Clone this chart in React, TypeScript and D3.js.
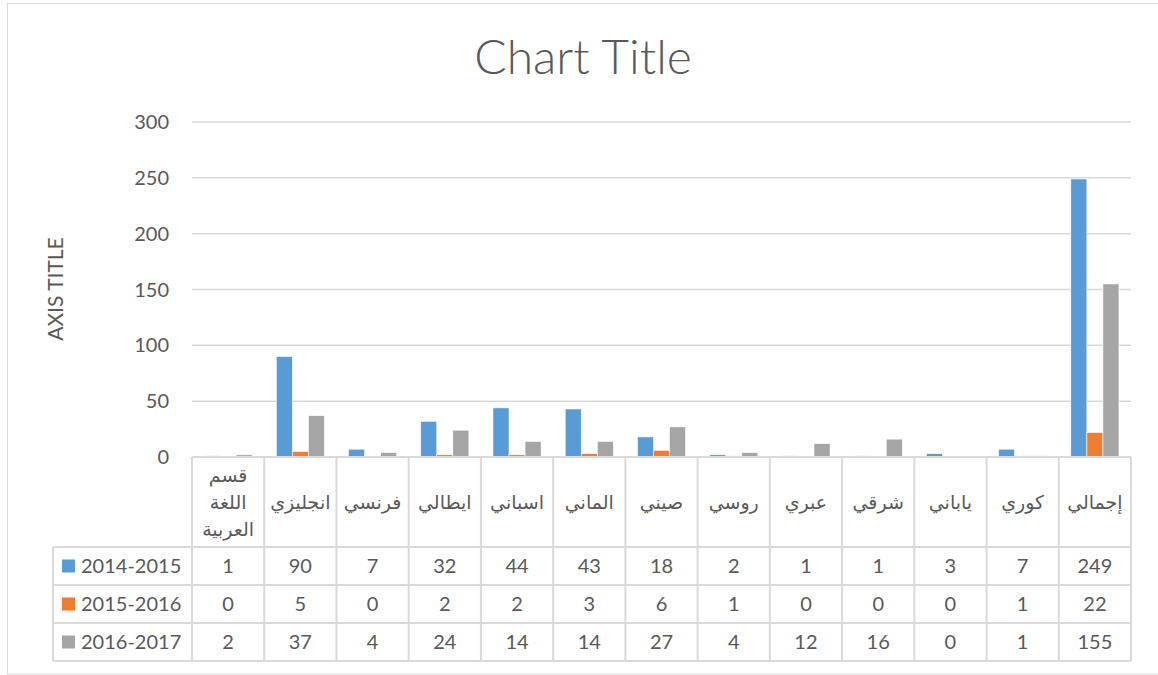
import React from "react";
import * as d3 from "d3";

const categories = [
  "قسم اللغة العربية",
  "انجليزي",
  "فرنسي",
  "ايطالي",
  "اسباني",
  "الماني",
  "صيني",
  "روسي",
  "عبري",
  "شرقي",
  "ياباني",
  "كوري",
  "إجمالي",
];
const categoryLines: string[][] = [
  ["قسم", "اللغة", "العربية"],
  ["انجليزي"],
  ["فرنسي"],
  ["ايطالي"],
  ["اسباني"],
  ["الماني"],
  ["صيني"],
  ["روسي"],
  ["عبري"],
  ["شرقي"],
  ["ياباني"],
  ["كوري"],
  ["إجمالي"],
];
const seriesNames = ["2014-2015", "2015-2016", "2016-2017"];
const values2014 = [1, 90, 7, 32, 44, 43, 18, 2, 1, 1, 3, 7, 249];
const values2015 = [0, 5, 0, 2, 2, 3, 6, 1, 0, 0, 0, 1, 22];
const values2016 = [2, 37, 4, 24, 14, 14, 27, 4, 12, 16, 0, 1, 155];
const yTicks = [0, 50, 100, 150, 200, 250, 300];
const colors = ["#5B9BD5", "#ED7D31", "#A5A5A5"];

const W = 1158;
const H = 675;
const plotLeft = 192;
const plotRight = 1131;
const plotTop = 122;
const plotBottom = 457;
const tableLeft = 53;
const rowLines = [547, 585, 623, 661];

const FONT = "Lato, 'Open Sans', 'DejaVu Sans', sans-serif";
const AR_FONT = "'DejaVu Sans', 'Liberation Sans', sans-serif";
const TEXT = "#595959";
const GRID = "#D9D9D9";

export default function App() {
  const series = [values2014, values2015, values2016];
  const x = d3.scaleBand<string>().domain(categories).range([plotLeft, plotRight]).padding(0);
  const xs = d3
    .scaleBand<string>()
    .domain(seriesNames)
    .range([0, x.bandwidth()])
    .paddingInner(0)
    .paddingOuter(0.75);
  const y = d3.scaleLinear().domain([0, 300]).range([plotBottom, plotTop]);

  const colEdges = categories.map((c) => x(c) as number).concat([plotRight]);

  return (
    <svg
      width={W}
      height={H}
      style={{ position: "absolute", left: 0, top: 0, background: "#fff" }}
    >
      <rect x={7.5} y={3.5} width={1160} height={670.5} fill="#fff" stroke={GRID} strokeWidth={1} />
      <text
        x={583}
        y={74}
        textAnchor="middle"
        fontFamily={FONT}
        fontWeight={300}
        fontSize={48}
        fill={TEXT}
      >
        Chart Title
      </text>
      <text
        transform={`translate(63,289) rotate(-90)`}
        textAnchor="middle"
        fontFamily={FONT}
        fontSize={21}
        fill={TEXT}
      >
        AXIS TITLE
      </text>
      {yTicks.map((t) => (
        <g key={t}>
          {t > 0 && (
            <line x1={plotLeft} x2={plotRight} y1={y(t)} y2={y(t)} stroke={GRID} strokeWidth={1.5} />
          )}
          <text
            x={169}
            y={y(t) + 7}
            textAnchor="end"
            fontFamily={FONT}
            fontSize={20}
            fill={TEXT}
          >
            {t}
          </text>
        </g>
      ))}
      {series.map((vals, si) =>
        vals.map((v, ci) => {
          const bx = (x(categories[ci]) as number) + (xs(seriesNames[si]) as number);
          return (
            <rect
              key={`${si}-${ci}`}
              x={bx}
              y={y(v)}
              width={xs.bandwidth()}
              height={plotBottom - y(v)}
              fill={colors[si]}
              stroke="#fff"
              strokeWidth={0.6}
            />
          );
        })
      )}
      {/* table */}
      <line x1={plotLeft} x2={plotRight} y1={plotBottom} y2={plotBottom} stroke={GRID} strokeWidth={2} />
      {rowLines.map((ry) => (
        <line key={ry} x1={tableLeft} x2={plotRight} y1={ry} y2={ry} stroke={GRID} strokeWidth={2} />
      ))}
      <line x1={tableLeft} x2={tableLeft} y1={rowLines[0]} y2={rowLines[3]} stroke={GRID} strokeWidth={2} />
      {colEdges.map((cx, i) => (
        <line key={i} x1={cx} x2={cx} y1={plotBottom} y2={rowLines[3]} stroke={GRID} strokeWidth={2} />
      ))}
      {categories.map((c, ci) => {
        const cx = (x(c) as number) + x.bandwidth() / 2;
        const lines = categoryLines[ci];
        const lh = 27;
        const cy = (plotBottom + rowLines[0]) / 2;
        return (
          <g key={c}>
            {lines.map((ln, li) => (
              <text
                key={li}
                x={cx}
                y={cy + (li - (lines.length - 1) / 2) * lh + 7}
                textAnchor="middle"
                fontFamily={AR_FONT}
                fontSize={19}
                fill={TEXT}
              >
                {ln}
              </text>
            ))}
            {series.map((vals, si) => (
              <text
                key={si}
                x={cx}
                y={(rowLines[si] + rowLines[si + 1]) / 2 + 7}
                textAnchor="middle"
                fontFamily={FONT}
                fontSize={20}
                fill={TEXT}
              >
                {vals[ci]}
              </text>
            ))}
          </g>
        );
      })}
      {seriesNames.map((s, si) => {
        const cy = (rowLines[si] + rowLines[si + 1]) / 2;
        return (
          <g key={s}>
            <rect x={62} y={cy - 6.5} width={13} height={13} fill={colors[si]} />
            <text x={81} y={cy + 7} fontFamily={FONT} fontSize={20} fill={TEXT}>
              {s}
            </text>
          </g>
        );
      })}
    </svg>
  );
}
